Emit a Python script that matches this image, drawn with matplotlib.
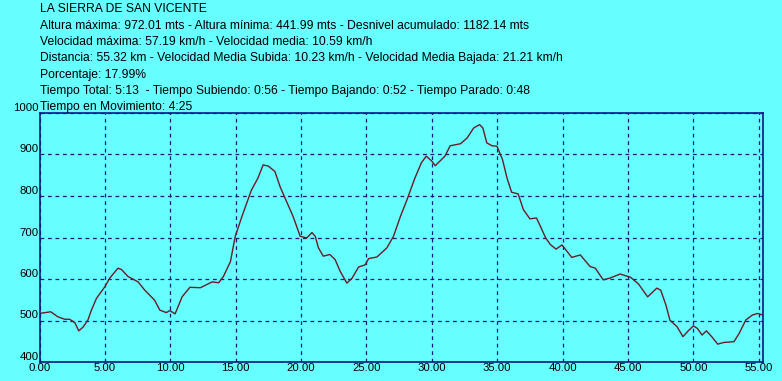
import matplotlib
matplotlib.use("Agg")
import matplotlib.pyplot as plt

# perfil de altura: distancia (km) y altura (m)
dist = [0.0, 0.86, 1.4, 1.93, 2.3, 2.7, 3.0, 3.33, 3.7, 3.97, 4.35, 4.99, 5.37,
        6.0, 6.26, 6.77, 7.54, 8.05, 8.8, 9.2, 9.7, 9.96, 10.37, 10.9, 11.5,
        12.3, 13.2, 13.7, 14.06, 14.6, 14.96, 15.47, 16.2, 16.7, 17.1, 17.5,
        18.0, 18.4, 18.9, 19.4, 19.93, 20.44, 20.83, 21.08, 21.33, 21.7, 22.2,
        22.6, 23.0, 23.5, 23.9, 24.4, 24.9, 25.16, 25.8, 26.56, 27.07, 27.6,
        28.1, 28.7, 29.2, 29.57, 30.0, 30.26, 31.0, 31.4, 32.2, 32.7, 33.2,
        33.65, 33.9, 34.2, 34.6, 34.98, 35.4, 35.75, 36.1, 36.6, 37.0, 37.5,
        38.0, 38.3, 38.7, 39.06, 39.5, 39.95, 40.7, 41.35, 42.1, 42.5, 43.1,
        43.6, 44.4, 45.2, 45.8, 46.5, 46.8, 47.2, 47.5, 47.9, 48.2, 48.75,
        49.2, 49.6, 50.0, 50.3, 50.66, 50.99, 51.4, 51.86, 52.3, 53.1, 53.5,
        54.0, 54.5, 54.9, 55.32]
altura = [517, 521, 509, 503, 503, 495, 475, 484, 501, 525, 553, 581, 602,
          626, 623, 606, 593, 573, 549, 525, 519, 524, 516, 557, 580,
          579, 593, 591, 606, 642, 702, 750, 814, 843, 875, 872,
          859, 822, 786, 750, 703, 699, 712, 703, 675, 655, 659,
          647, 618, 590, 602, 629, 634, 649, 653, 675, 703, 751,
          791, 843, 880, 896, 884, 873, 896, 921, 926, 940, 964,
          972, 964, 928, 921, 920, 888, 843, 809, 805, 767, 745,
          747, 727, 699, 683, 672, 682, 652, 658, 630, 626, 598,
          602, 612, 604, 588, 557, 566, 578, 573, 537, 501, 485,
          461, 475, 487, 481, 465, 475, 461, 443, 447, 449, 469,
          501, 513, 517, 513]

x_ticks = [0, 5, 10, 15, 20, 25, 30, 35, 40, 45, 50, 55]
y_ticks = [400, 500, 600, 700, 800, 900, 1000]

cabecera = [
    "LA SIERRA DE SAN VICENTE",
    "Altura máxima: 972.01 mts - Altura mínima: 441.99 mts - Desnivel acumulado: 1182.14 mts",
    "Velocidad máxima: 57.19 km/h - Velocidad media: 10.59 km/h",
    "Distancia: 55.32 km - Velocidad Media Subida: 10.23 km/h - Velocidad Media Bajada: 21.21 km/h",
    "Porcentaje: 17.99%",
    "Tiempo Total: 5:13  - Tiempo Subiendo: 0:56 - Tiempo Bajando: 0:52 - Tiempo Parado: 0:48",
    "Tiempo en Movimiento: 4:25",
]

fondo = "#66ffff"
azul = "#0a1a80"
plt.rcParams["font.family"] = ["Liberation Sans", "DejaVu Sans"]

fig = plt.figure(figsize=(7.82, 3.81), dpi=100, facecolor=fondo)
ax = fig.add_axes([39.5 / 782, 1 - 362 / 381, (763 - 39.5) / 782, (362 - 113) / 381])
ax.set_facecolor(fondo)

ax.plot(dist, altura, color="#6a1a2a", lw=1.0)

ax.set_xlim(0, 55.32)
ax.set_ylim(400, 1000)
ax.set_xticks(x_ticks)
ax.set_yticks(y_ticks)
ax.set_xticklabels([f"{v:.2f}" for v in x_ticks])
ax.set_yticklabels([str(v) for v in y_ticks])
ax.tick_params(length=0, labelsize=8.2, colors="black", pad=1)
ax.tick_params(axis="y", pad=0.5)
for lbl in ax.get_yticklabels():
    lbl.set_verticalalignment("bottom")
ax.grid(True, color=azul, ls=(0, (3, 3)), lw=0.9)
for s in ax.spines.values():
    s.set_color(azul)
    s.set_linewidth(1.2)

# texto de cabecera
for i, t in enumerate(cabecera):
    fig.text(39.5 / 782, 1 - (12.5 + i * 16.3) / 381, t, fontsize=8.7,
             color="black", ha="left", va="baseline")

fig.savefig("out.png", dpi=100, facecolor=fondo)
